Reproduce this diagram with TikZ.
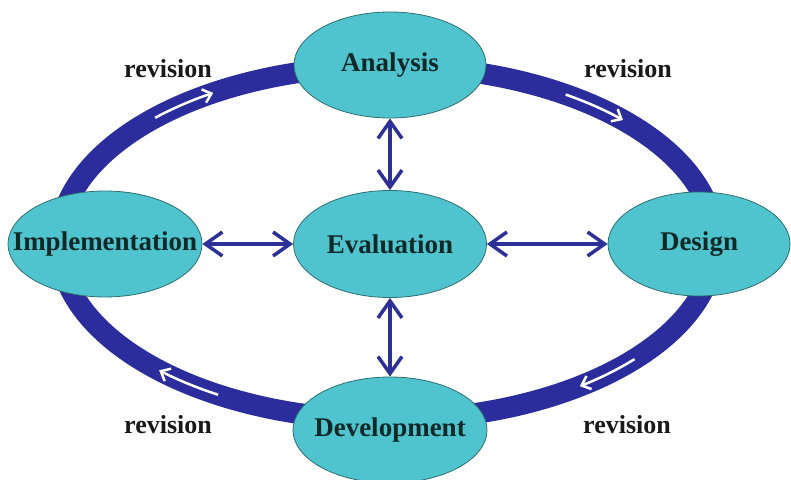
\documentclass[tikz,border=0pt]{standalone}
\usepackage{fontspec}
\setmainfont{Liberation Serif}
\usetikzlibrary{shapes.geometric,arrows.meta}
\definecolor{ringblue}{RGB}{42,45,155}
\definecolor{arrowblue}{RGB}{45,48,150}
\definecolor{nodecyan}{RGB}{80,196,206}
\definecolor{nodeedge}{RGB}{45,110,115}
\definecolor{nodetext}{RGB}{15,40,40}
\definecolor{revtext}{RGB}{25,25,25}
\newcommand{\zbox}[1]{\makebox[0pt]{\raisebox{-2pt}{#1}}}
\begin{document}
\begin{tikzpicture}[x=1pt,y=1pt,
  phase/.style={ellipse, draw=nodeedge, line width=0.8pt, fill=nodecyan, inner sep=0pt,
    font=\fontsize{27}{30}\selectfont\bfseries, text=nodetext},
  link/.style={draw=arrowblue, line width=3.5pt,
    {Straight Barb[length=17pt,width=24pt]}-{Straight Barb[length=17pt,width=24pt]}},
  rev/.style={font=\fontsize{26}{30}\selectfont\bfseries, text=revtext},
  flow/.style={draw=white, line width=2.5pt, -{Straight Barb[length=8pt,width=14pt]}}]
\useasboundingbox (0,0) rectangle (791,479);
\clip (0,0) rectangle (791,479);
\fill[white] (0,0) rectangle (791,479);
\coordinate (rc) at (387,236);
\draw[ringblue, line width=21pt] (rc) ellipse [x radius=328, y radius=177];
% white direction arrows on the ring
\draw[flow] ([shift={(135:328 and 177)}]rc) arc[start angle=135, end angle=122, x radius=328, y radius=177];
\draw[flow] ([shift={(57:328 and 177)}]rc) arc[start angle=57, end angle=44, x radius=328, y radius=177];
\draw[flow] ([shift={(-41:328 and 177)}]rc) arc[start angle=-41, end angle=-54, x radius=328, y radius=177];
\draw[flow] ([shift={(239:328 and 177)}]rc) arc[start angle=239, end angle=226, x radius=328, y radius=177];
% phase nodes
\node[phase, minimum width=192pt, minimum height=106pt] (ana) at (390,414) {\zbox{Analysis}};
\node[phase, minimum width=182pt, minimum height=104pt] (des) at (699,235) {\zbox{Design}};
\node[phase, minimum width=194pt, minimum height=106pt] (dev) at (390,49) {\zbox{Development}};
\node[phase, minimum width=194pt, minimum height=106pt] (imp) at (105,235) {\zbox{Implementation}};
\node[phase, minimum width=193pt, minimum height=107pt] (eva) at (390,235) {\zbox{Evaluation}};
% connectors
\draw[link] (ana) -- (eva);
\draw[link] (eva) -- (dev);
\draw[link] (imp) -- (eva);
\draw[link] (eva) -- (des);
% revision labels
\node[rev] (r1) at (168,410) {revision};
\node[rev] (r2) at (628,410) {revision};
\node[rev] (r3) at (168,54) {revision};
\node[rev] (r4) at (627,54) {revision};
\end{tikzpicture}
\end{document}
